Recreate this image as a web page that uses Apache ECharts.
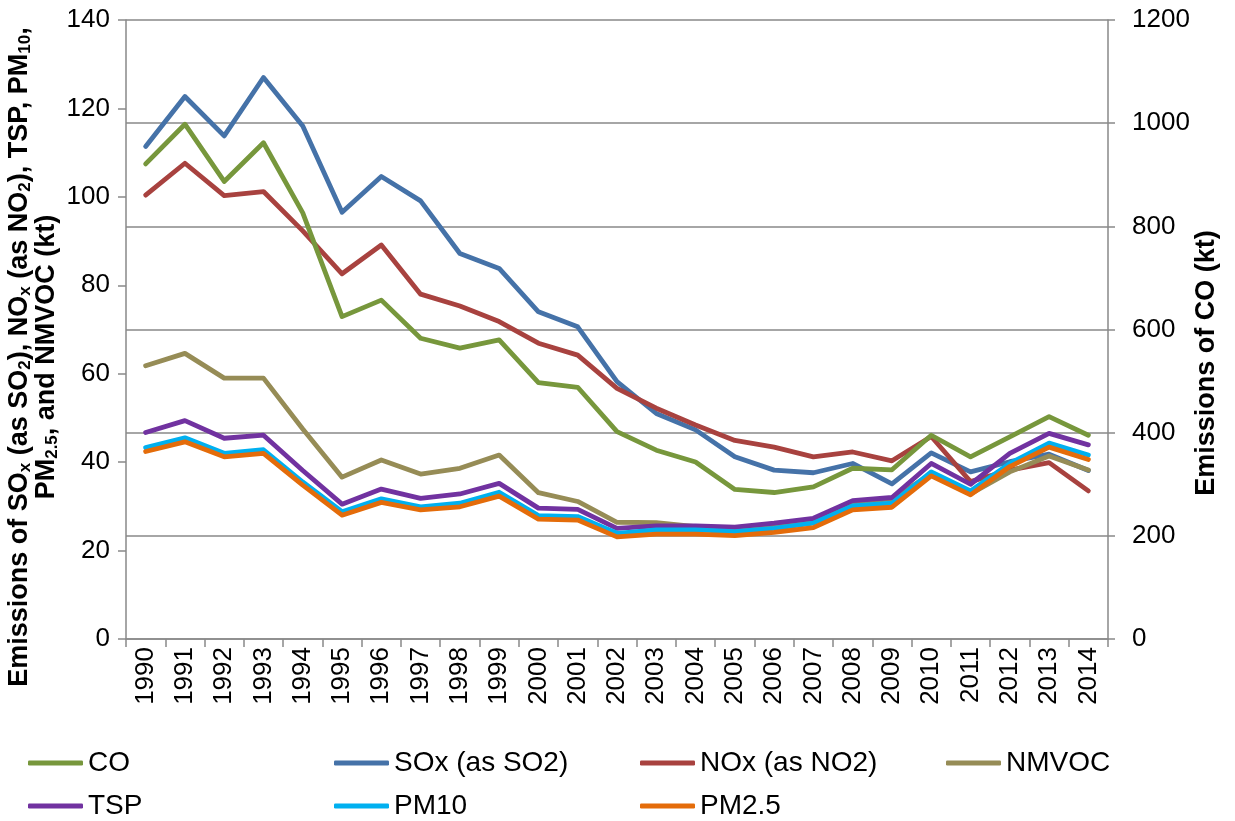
<!DOCTYPE html>
<html>
<head>
<meta charset="utf-8">
<script src="https://cdn.jsdelivr.net/npm/echarts@6/dist/echarts.min.js"></script>
<style>
html,body{margin:0;padding:0;background:#fff;}
#chart{width:1235px;height:821px;}
</style>
</head>
<body>
<div id="chart"></div>
<script>
const years = ['1990','1991','1992','1993','1994','1995','1996','1997','1998','1999','2000','2001','2002','2003','2004','2005','2006','2007','2008','2009','2010','2011','2012','2013','2014'];
const leftTicks = [0, 140, 20];
const rightTicks = [0, 1200, 200];
const CO = [921, 998, 887, 962, 826, 625, 657, 583, 564, 580, 497, 488, 402, 366, 343, 290, 284, 295, 331, 328, 395, 353, 392, 431, 395];
const SOx = [111.4, 122.7, 113.8, 127.0, 116.0, 96.5, 104.6, 99.1, 87.2, 83.8, 74.0, 70.6, 58.2, 51.0, 47.3, 41.2, 38.2, 37.6, 39.7, 35.1, 42.1, 37.8, 40.1, 41.8, 38.1];
const NOx = [100.4, 107.6, 100.3, 101.2, 92.3, 82.6, 89.1, 78.0, 75.3, 71.8, 66.9, 64.2, 56.7, 52.2, 48.4, 44.9, 43.4, 41.2, 42.3, 40.3, 45.8, 35.6, 38.2, 39.9, 33.5];
const NMVOC = [61.8, 64.6, 59.0, 59.0, 47.5, 36.6, 40.5, 37.3, 38.6, 41.6, 33.1, 31.1, 26.4, 26.3, 25.4, 25.0, 25.9, 27.0, 31.0, 31.7, 37.3, 32.8, 37.8, 41.4, 38.2];
const TSP = [46.7, 49.4, 45.4, 46.1, 38.1, 30.5, 33.9, 31.8, 32.8, 35.2, 29.6, 29.3, 25.0, 25.6, 25.6, 25.3, 26.2, 27.3, 31.3, 32.0, 39.7, 35.0, 42.0, 46.5, 43.9];
const PM10 = [43.3, 45.5, 42.0, 42.8, 35.5, 28.8, 31.7, 29.9, 30.7, 33.2, 27.9, 27.7, 23.9, 24.7, 24.7, 24.3, 25.0, 26.2, 30.1, 30.7, 37.8, 33.5, 39.7, 44.3, 41.6];
const PM25 = [42.4, 44.6, 41.2, 42.0, 34.8, 28.0, 30.9, 29.2, 29.9, 32.3, 27.1, 26.9, 23.1, 23.7, 23.7, 23.4, 24.1, 25.2, 29.2, 29.8, 36.9, 32.6, 39.0, 43.4, 40.6];

const FONT = 'Liberation Sans, Arial, sans-serif';
const GRAY = '#898989';

function mkSeries(name, data, color, axis, z) {
  return {
    name: name, type: 'line', data: data, yAxisIndex: axis,
    symbol: 'none', showSymbol: false, z: z,
    itemStyle: {color: color},
    lineStyle: {color: color, width: 4.8, cap: 'round', join: 'round'}
  };
}
const legendCommon = {
  orient: 'vertical', top: 749, padding: 0, itemGap: 15,
  icon: 'roundRect', itemWidth: 55, itemHeight: 5, selectedMode: false,
  textStyle: {fontSize: 28, fontFamily: FONT, color: '#000', lineHeight: 28}
};
const richN = {fontSize: 27, fontWeight: 'bold', fontFamily: FONT, fill: '#000', lineHeight: 28};
const richS = {fontSize: 17, fontWeight: 'bold', fontFamily: FONT, fill: '#000', lineHeight: 12, verticalAlign: 'bottom'};
function titleLine(x, y, text) {
  return {
    type: 'text', x: x, y: y, rotation: Math.PI / 2, silent: true,
    style: {text: text, rich: {n: richN, s: richS}, align: 'center', verticalAlign: 'middle'}
  };
}
const noComma = function (v) { return String(v); };

const chart = echarts.init(document.getElementById('chart'), null, {renderer: 'canvas'});
chart.setOption({
  animation: false,
  backgroundColor: '#fff',
  grid: {left: 126, right: 127, top: 20, bottom: 182, containLabel: false},
  xAxis: {
    type: 'category', data: years, boundaryGap: true,
    axisLine: {lineStyle: {color: GRAY, width: 1.5}},
    axisTick: {show: true, interval: 0, length: 8, lineStyle: {color: GRAY, width: 1.5}},
    axisLabel: {
      interval: 0, rotate: 90, margin: 8, hideOverlap: false,
      fontSize: 26, fontFamily: FONT, color: '#000'
    },
    splitLine: {show: false}
  },
  yAxis: [
    {
      type: 'value', min: leftTicks[0], max: leftTicks[1], interval: leftTicks[2], position: 'left',
      axisLine: {show: true, lineStyle: {color: GRAY, width: 1.5}},
      axisTick: {show: true, length: 8, lineStyle: {color: GRAY, width: 1.5}},
      axisLabel: {fontSize: 26, fontFamily: FONT, color: '#000', margin: 16, formatter: noComma},
      splitLine: {show: false}
    },
    {
      type: 'value', min: rightTicks[0], max: rightTicks[1], interval: rightTicks[2], position: 'right',
      axisLine: {show: true, lineStyle: {color: GRAY, width: 1.5}},
      axisTick: {show: true, length: 7, lineStyle: {color: GRAY, width: 1.5}},
      axisLabel: {fontSize: 26, fontFamily: FONT, color: '#000', margin: 24, formatter: noComma},
      splitLine: {show: true, lineStyle: {color: GRAY, width: 1.5}}
    }
  ],
  legend: [
    Object.assign({left: 28, data: ['CO', 'TSP']}, legendCommon),
    Object.assign({left: 334, data: ['SOx (as SO2)', 'PM10']}, legendCommon),
    Object.assign({left: 640, data: ['NOx (as NO2)', 'PM2.5']}, legendCommon),
    Object.assign({left: 946, data: ['NMVOC']}, legendCommon)
  ],
  graphic: [
    titleLine(20, 357, '{n|Emissions of SO}{s|x}{n| (as SO}{s|2}{n|), NO}{s|x}{n| (as NO}{s|2}{n|), TSP, PM}{s|10}{n|,}'),
    titleLine(47, 357, '{n|PM}{s|2.5}{n|, and NMVOC (kt)}'),
    {
      type: 'text', x: 1207, y: 363, rotation: Math.PI / 2, silent: true,
      style: {
        text: 'Emissions of CO (kt)',
        fontSize: 27, fontWeight: 'bold', fontFamily: FONT, fill: '#000',
        align: 'center', verticalAlign: 'middle'
      }
    }
  ],
  series: [
    mkSeries('SOx (as SO2)', SOx, '#4572A8', 0, 2),
    mkSeries('NOx (as NO2)', NOx, '#A8423F', 0, 3),
    mkSeries('NMVOC', NMVOC, '#968C56', 0, 4),
    mkSeries('TSP', TSP, '#7132A0', 0, 5),
    mkSeries('PM10', PM10, '#00B0F0', 0, 6),
    mkSeries('PM2.5', PM25, '#E46C0A', 0, 7),
    mkSeries('CO', CO, '#77973C', 1, 8)
  ]
});
</script>
</body>
</html>
